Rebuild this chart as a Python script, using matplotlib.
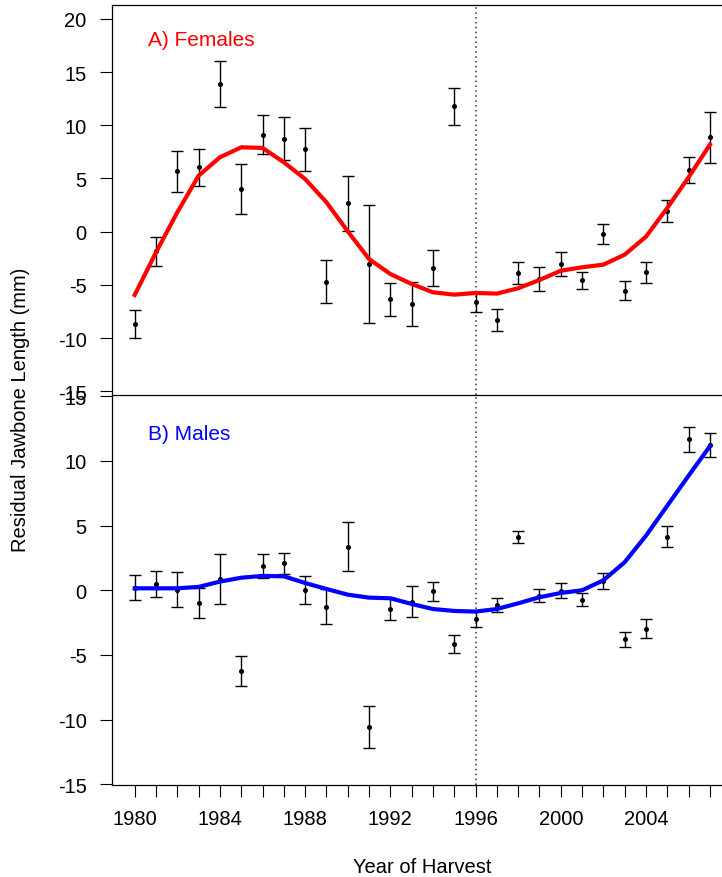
import matplotlib
matplotlib.use("Agg")
import matplotlib.pyplot as plt

plt.rcParams['font.family'] = ['Liberation Sans', 'DejaVu Sans']
plt.rcParams['axes.unicode_minus'] = False

years = list(range(1980, 2008))

# Females: annual mean residual jawbone length, standard error, smoothed trend
fem_mean = [-8.67, -1.85, 5.69, 6.06, 13.85, 4.00, 9.10, 8.73, 7.73, -4.71,
            2.65, -3.04, -6.37, -6.78, -3.39, 11.80, -6.58, -8.29, -3.87, -4.46,
            -3.04, -4.58, -0.22, -5.53, -3.82, 1.95, 5.80, 8.86]
fem_se = [1.34, 1.38, 1.93, 1.74, 2.16, 2.34, 1.84, 2.02, 2.00, 2.02,
          2.61, 5.52, 1.58, 2.08, 1.70, 1.74, 0.94, 1.05, 1.02, 1.11,
          1.10, 0.82, 0.94, 0.93, 1.00, 1.04, 1.25, 2.43]
fem_trend = [-5.95, -1.94, 1.82, 5.26, 6.99, 7.93, 7.87, 6.52, 4.95, 2.76,
             0.03, -2.57, -3.98, -4.92, -5.70, -5.92, -5.76, -5.82, -5.32, -4.54,
             -3.67, -3.35, -3.10, -2.16, -0.47, 2.23, 5.11, 8.18]

# Males
male_mean = [0.20, 0.50, 0.05, -0.96, 0.86, -6.25, 1.87, 2.10, 0.05, -1.27,
             3.38, -10.56, -1.46, -0.88, -0.08, -4.17, -2.20, -1.13, 4.12, -0.42,
             -0.02, -0.73, 0.70, -3.78, -2.97, 4.15, 11.68, 11.24]
male_se = [0.97, 1.02, 1.37, 1.16, 1.92, 1.14, 0.92, 0.82, 1.08, 1.37,
           1.89, 1.64, 0.84, 1.21, 0.75, 0.71, 0.62, 0.56, 0.49, 0.52,
           0.58, 0.52, 0.60, 0.58, 0.75, 0.80, 0.98, 0.90]
male_trend = [0.15, 0.15, 0.15, 0.26, 0.67, 0.97, 1.11, 1.08, 0.56, 0.10,
              -0.34, -0.57, -0.62, -1.06, -1.45, -1.60, -1.65, -1.45, -1.01, -0.54,
              -0.21, 0.00, 0.77, 2.17, 4.22, 6.54, 8.86, 11.14]

fem_ticks = [-15, -10, -5, 0, 5, 10, 15, 20]
male_ticks = [-15, -10, -5, 0, 5, 10, 15]
x_label_years = [1980, 1984, 1988, 1992, 1996, 2000, 2004]
break_year = 1996

W, H = 722, 878
fig = plt.figure(figsize=(W / 100, H / 100), dpi=100)


def box(left, top, right, bottom):
    return [left / W, 1 - bottom / H, (right - left) / W, (bottom - top) / H]


ax_f = fig.add_axes(box(111.7, 5.7, 732.9, 396))
ax_m = fig.add_axes(box(111.7, 396, 732.9, 786))
ax_m.patch.set_alpha(0)

FS = 14.5


def panel(ax, mean, se, trend, color, label, label_y, ylim, ticks):
    ax.errorbar(years, mean, yerr=se, fmt='o', color='black', ms=2.6,
                ecolor='black', elinewidth=1.0, capsize=4.5, capthick=1.0, zorder=2)
    ax.plot(years, trend, color=color, lw=3.0, solid_joinstyle='round', zorder=3)
    ax.axvline(break_year, color='#333333', lw=1.1, linestyle=(0, (1, 2.2)), zorder=1)
    ax.set_xlim(1978.92, 2008.08)
    ax.text(1980.64, label_y, label, color=color, fontsize=15, ha='left', va='center')
    ax.set_yticks(ticks)
    ax.set_ylim(*ylim)
    ax.tick_params(axis='y', direction='out', length=9, width=0.8, pad=9,
                   labelsize=FS)
    for s in ax.spines.values():
        s.set_linewidth(0.9)


panel(ax_f, fem_mean, fem_se, fem_trend, '#FF0000', 'A) Females', 18.1,
      (-15.35, 21.33), fem_ticks)
panel(ax_m, male_mean, male_se, male_trend, '#0000FF', 'B) Males', 12.09,
      (-15.06, 15.1), male_ticks)

ax_f.tick_params(axis='x', bottom=False, labelbottom=False)
ax_m.spines['top'].set_visible(False)

ax_m.set_xticks(years, minor=True)
ax_m.set_xticks(x_label_years)
ax_m.tick_params(axis='x', which='both', direction='out', length=8.5, width=0.8,
                 pad=9, labelsize=FS)

fig.text(422.3 / W, 1 - 868 / H, 'Year of Harvest', fontsize=FS,
         ha='center', va='center')
fig.text(21 / W, 1 - 410 / H, 'Residual Jawbone Length (mm)', fontsize=FS,
         rotation=90, ha='center', va='center')

fig.savefig('out.png', dpi=100)
